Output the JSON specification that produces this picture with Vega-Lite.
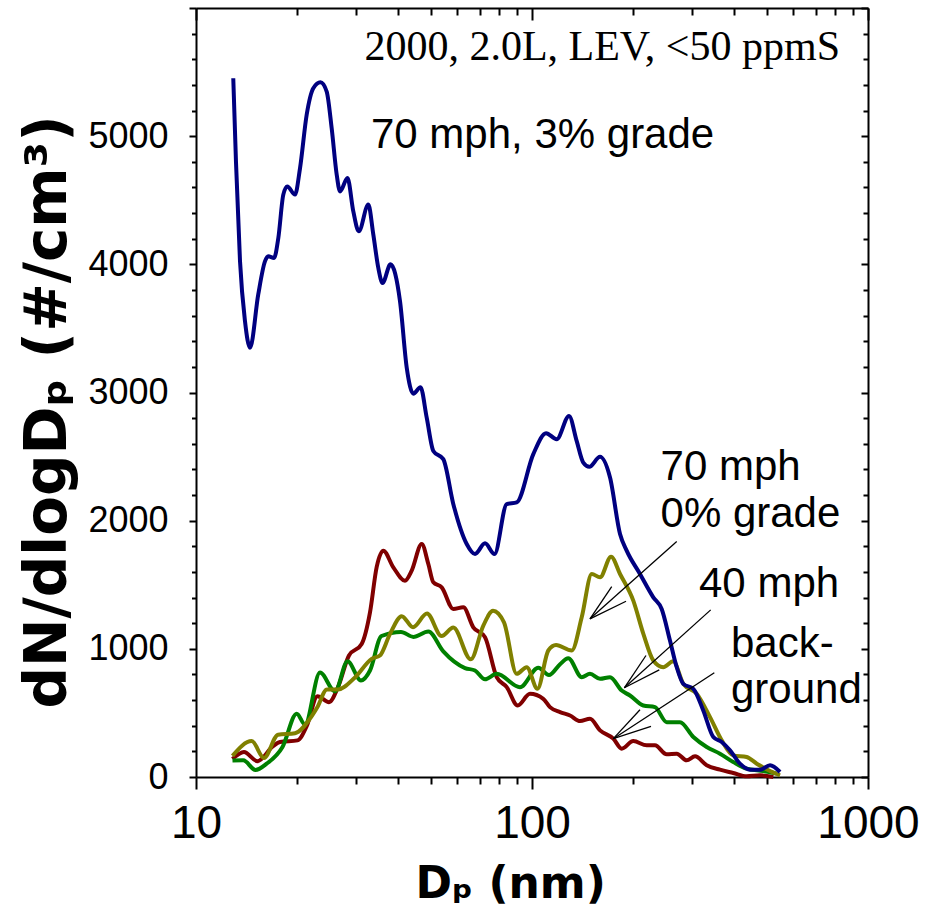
{
  "$schema": "https://vega.github.io/schema/vega-lite/v6.json",
  "width": 672,
  "height": 769,
  "autosize": "none",
  "padding": {"left": 196, "top": 8, "right": 60, "bottom": 140},
  "background": "white",
  "config": {
    "view": {"stroke": null},
    "axis": {"grid": false, "domainColor": "black", "tickColor": "black", "labelColor": "black", "titleColor": "black", "domainWidth": 2, "tickWidth": 2}
  },
  "datasets": {
    "curves": [
      {"series": "background", "D": 12.84, "N": 140}, {"series": "background", "D": 13.89, "N": 195}, {"series": "background", "D": 15.24, "N": 123}, {"series": "background", "D": 16.95, "N": 240}, {"series": "background", "D": 17.78, "N": 273}, {"series": "background", "D": 20.05, "N": 286}, {"series": "background", "D": 21.35, "N": 396}, {"series": "background", "D": 22.99, "N": 630}, {"series": "background", "D": 24.88, "N": 584}, {"series": "background", "D": 26.46, "N": 701}, {"series": "background", "D": 28.53, "N": 948}, {"series": "background", "D": 31.12, "N": 1038}, {"series": "background", "D": 32.95, "N": 1285}, {"series": "background", "D": 34.5, "N": 1640}, {"series": "background", "D": 36.1, "N": 1766}, {"series": "background", "D": 38.66, "N": 1636}, {"series": "background", "D": 41.88, "N": 1532}, {"series": "background", "D": 43.85, "N": 1610}, {"series": "background", "D": 46.96, "N": 1818}, {"series": "background", "D": 49.14, "N": 1662}, {"series": "background", "D": 50.85, "N": 1519}, {"series": "background", "D": 53.86, "N": 1480}, {"series": "background", "D": 58.33, "N": 1311}, {"series": "background", "D": 62.45, "N": 1324}, {"series": "background", "D": 66.87, "N": 1168}, {"series": "background", "D": 72.47, "N": 1090}, {"series": "background", "D": 78.51, "N": 779}, {"series": "background", "D": 84.1, "N": 701}, {"series": "background", "D": 90.67, "N": 558}, {"series": "background", "D": 98.63, "N": 649}, {"series": "background", "D": 108.0, "N": 610}, {"series": "background", "D": 113.1, "N": 545}, {"series": "background", "D": 121.2, "N": 506}, {"series": "background", "D": 129.8, "N": 480}, {"series": "background", "D": 139.0, "N": 436}, {"series": "background", "D": 148.8, "N": 455}, {"series": "background", "D": 159.4, "N": 364}, {"series": "background", "D": 174.6, "N": 299}, {"series": "background", "D": 184.9, "N": 221}, {"series": "background", "D": 200.2, "N": 280}, {"series": "background", "D": 219.5, "N": 247}, {"series": "background", "D": 232.3, "N": 247}, {"series": "background", "D": 251.7, "N": 177}, {"series": "background", "D": 269.6, "N": 182}, {"series": "background", "D": 288.7, "N": 130}, {"series": "background", "D": 305.6, "N": 161}, {"series": "background", "D": 331.1, "N": 91}, {"series": "background", "D": 362.6, "N": 57}, {"series": "background", "D": 397.2, "N": 31}, {"series": "background", "D": 435.5, "N": 5}, {"series": "background", "D": 477.2, "N": 13}, {"series": "background", "D": 522.7, "N": 0},
      {"series": "40 mph", "D": 12.84, "N": 128}, {"series": "40 mph", "D": 13.83, "N": 130}, {"series": "40 mph", "D": 15.03, "N": 55}, {"series": "40 mph", "D": 16.23, "N": 104}, {"series": "40 mph", "D": 18.09, "N": 235}, {"series": "40 mph", "D": 19.94, "N": 494}, {"series": "40 mph", "D": 21.11, "N": 410}, {"series": "40 mph", "D": 23.39, "N": 815}, {"series": "40 mph", "D": 25.93, "N": 668}, {"series": "40 mph", "D": 28.24, "N": 903}, {"series": "40 mph", "D": 30.97, "N": 753}, {"series": "40 mph", "D": 32.95, "N": 831}, {"series": "40 mph", "D": 35.65, "N": 1100}, {"series": "40 mph", "D": 40.75, "N": 1132}, {"series": "40 mph", "D": 44.34, "N": 1093}, {"series": "40 mph", "D": 49.14, "N": 1135}, {"series": "40 mph", "D": 54.45, "N": 980}, {"series": "40 mph", "D": 63.18, "N": 850}, {"series": "40 mph", "D": 67.67, "N": 831}, {"series": "40 mph", "D": 72.47, "N": 762}, {"series": "40 mph", "D": 78.51, "N": 805}, {"series": "40 mph", "D": 92.1, "N": 701}, {"series": "40 mph", "D": 104.4, "N": 852}, {"series": "40 mph", "D": 112.3, "N": 795}, {"series": "40 mph", "D": 121.2, "N": 880}, {"series": "40 mph", "D": 128.2, "N": 927}, {"series": "40 mph", "D": 140.6, "N": 779}, {"series": "40 mph", "D": 148.8, "N": 805}, {"series": "40 mph", "D": 159.4, "N": 766}, {"series": "40 mph", "D": 170.7, "N": 779}, {"series": "40 mph", "D": 184.9, "N": 675}, {"series": "40 mph", "D": 195.7, "N": 636}, {"series": "40 mph", "D": 214.5, "N": 558}, {"series": "40 mph", "D": 232.3, "N": 545}, {"series": "40 mph", "D": 251.7, "N": 428}, {"series": "40 mph", "D": 275.7, "N": 428}, {"series": "40 mph", "D": 302.1, "N": 312}, {"series": "40 mph", "D": 331.1, "N": 234}, {"series": "40 mph", "D": 362.6, "N": 182}, {"series": "40 mph", "D": 397.2, "N": 117}, {"series": "40 mph", "D": 435.5, "N": 65}, {"series": "40 mph", "D": 488.1, "N": 47}, {"series": "40 mph", "D": 535.0, "N": 26},
      {"series": "70 mph, 0% grade", "D": 12.84, "N": 165}, {"series": "70 mph, 0% grade", "D": 14.65, "N": 280}, {"series": "70 mph, 0% grade", "D": 15.94, "N": 148}, {"series": "70 mph, 0% grade", "D": 17.54, "N": 330}, {"series": "70 mph, 0% grade", "D": 19.71, "N": 341}, {"series": "70 mph, 0% grade", "D": 21.84, "N": 455}, {"series": "70 mph, 0% grade", "D": 22.92, "N": 540}, {"series": "70 mph, 0% grade", "D": 24.54, "N": 683}, {"series": "70 mph, 0% grade", "D": 26.46, "N": 683}, {"series": "70 mph, 0% grade", "D": 29.73, "N": 777}, {"series": "70 mph, 0% grade", "D": 33.33, "N": 922}, {"series": "70 mph, 0% grade", "D": 35.28, "N": 948}, {"series": "70 mph, 0% grade", "D": 37.8, "N": 1117}, {"series": "70 mph, 0% grade", "D": 40.95, "N": 1255}, {"series": "70 mph, 0% grade", "D": 44.25, "N": 1168}, {"series": "70 mph, 0% grade", "D": 48.7, "N": 1275}, {"series": "70 mph, 0% grade", "D": 53.79, "N": 1100}, {"series": "70 mph, 0% grade", "D": 58.33, "N": 1166}, {"series": "70 mph, 0% grade", "D": 65.74, "N": 918}, {"series": "70 mph, 0% grade", "D": 71.64, "N": 1181}, {"series": "70 mph, 0% grade", "D": 76.55, "N": 1298}, {"series": "70 mph, 0% grade", "D": 82.54, "N": 1207}, {"series": "70 mph, 0% grade", "D": 90.04, "N": 805}, {"series": "70 mph, 0% grade", "D": 96.43, "N": 857}, {"series": "70 mph, 0% grade", "D": 103.8, "N": 688}, {"series": "70 mph, 0% grade", "D": 111.8, "N": 987}, {"series": "70 mph, 0% grade", "D": 117.9, "N": 1030}, {"series": "70 mph, 0% grade", "D": 131.3, "N": 987}, {"series": "70 mph, 0% grade", "D": 140.6, "N": 1246}, {"series": "70 mph, 0% grade", "D": 150.6, "N": 1584}, {"series": "70 mph, 0% grade", "D": 159.4, "N": 1558}, {"series": "70 mph, 0% grade", "D": 171.9, "N": 1719}, {"series": "70 mph, 0% grade", "D": 182.8, "N": 1584}, {"series": "70 mph, 0% grade", "D": 200.2, "N": 1376}, {"series": "70 mph, 0% grade", "D": 214.5, "N": 1117}, {"series": "70 mph, 0% grade", "D": 229.6, "N": 909}, {"series": "70 mph, 0% grade", "D": 245.9, "N": 857}, {"series": "70 mph, 0% grade", "D": 263.3, "N": 903}, {"series": "70 mph, 0% grade", "D": 282.0, "N": 727}, {"series": "70 mph, 0% grade", "D": 309.2, "N": 649}, {"series": "70 mph, 0% grade", "D": 338.7, "N": 467}, {"series": "70 mph, 0% grade", "D": 366.9, "N": 286}, {"series": "70 mph, 0% grade", "D": 397.2, "N": 169}, {"series": "70 mph, 0% grade", "D": 435.5, "N": 156}, {"series": "70 mph, 0% grade", "D": 466.6, "N": 104}, {"series": "70 mph, 0% grade", "D": 511.0, "N": 47}, {"series": "70 mph, 0% grade", "D": 547.2, "N": 13},
      {"series": "70 mph, 3% grade", "D": 12.91, "N": 5452}, {"series": "70 mph, 3% grade", "D": 13.15, "N": 4803}, {"series": "70 mph, 3% grade", "D": 13.52, "N": 4025}, {"series": "70 mph, 3% grade", "D": 13.99, "N": 3556}, {"series": "70 mph, 3% grade", "D": 14.48, "N": 3349}, {"series": "70 mph, 3% grade", "D": 15.32, "N": 3765}, {"series": "70 mph, 3% grade", "D": 16.05, "N": 4025}, {"series": "70 mph, 3% grade", "D": 16.41, "N": 4063}, {"series": "70 mph, 3% grade", "D": 17.07, "N": 4050}, {"series": "70 mph, 3% grade", "D": 17.58, "N": 4206}, {"series": "70 mph, 3% grade", "D": 18.19, "N": 4544}, {"series": "70 mph, 3% grade", "D": 18.69, "N": 4608}, {"series": "70 mph, 3% grade", "D": 19.71, "N": 4544}, {"series": "70 mph, 3% grade", "D": 20.4, "N": 4751}, {"series": "70 mph, 3% grade", "D": 21.35, "N": 5167}, {"series": "70 mph, 3% grade", "D": 22.34, "N": 5374}, {"series": "70 mph, 3% grade", "D": 23.47, "N": 5421}, {"series": "70 mph, 3% grade", "D": 24.49, "N": 5348}, {"series": "70 mph, 3% grade", "D": 25.34, "N": 5062}, {"series": "70 mph, 3% grade", "D": 26.23, "N": 4699}, {"series": "70 mph, 3% grade", "D": 26.83, "N": 4569}, {"series": "70 mph, 3% grade", "D": 28.24, "N": 4673}, {"series": "70 mph, 3% grade", "D": 29.39, "N": 4413}, {"series": "70 mph, 3% grade", "D": 30.51, "N": 4258}, {"series": "70 mph, 3% grade", "D": 32.57, "N": 4466}, {"series": "70 mph, 3% grade", "D": 33.71, "N": 4232}, {"series": "70 mph, 3% grade", "D": 34.88, "N": 3972}, {"series": "70 mph, 3% grade", "D": 35.91, "N": 3855}, {"series": "70 mph, 3% grade", "D": 37.93, "N": 4000}, {"series": "70 mph, 3% grade", "D": 40.47, "N": 3713}, {"series": "70 mph, 3% grade", "D": 42.38, "N": 3193}, {"series": "70 mph, 3% grade", "D": 44.34, "N": 2991}, {"series": "70 mph, 3% grade", "D": 46.58, "N": 3040}, {"series": "70 mph, 3% grade", "D": 48.6, "N": 2804}, {"series": "70 mph, 3% grade", "D": 50.85, "N": 2544}, {"series": "70 mph, 3% grade", "D": 54.45, "N": 2480}, {"series": "70 mph, 3% grade", "D": 58.33, "N": 2129}, {"series": "70 mph, 3% grade", "D": 63.92, "N": 1818}, {"series": "70 mph, 3% grade", "D": 67.67, "N": 1740}, {"series": "70 mph, 3% grade", "D": 72.47, "N": 1823}, {"series": "70 mph, 3% grade", "D": 77.34, "N": 1740}, {"series": "70 mph, 3% grade", "D": 84.1, "N": 2129}, {"series": "70 mph, 3% grade", "D": 90.04, "N": 2142}, {"series": "70 mph, 3% grade", "D": 100.9, "N": 2519}, {"series": "70 mph, 3% grade", "D": 110.1, "N": 2683}, {"series": "70 mph, 3% grade", "D": 118.4, "N": 2636}, {"series": "70 mph, 3% grade", "D": 128.9, "N": 2817}, {"series": "70 mph, 3% grade", "D": 135.8, "N": 2622}, {"series": "70 mph, 3% grade", "D": 142.1, "N": 2453}, {"series": "70 mph, 3% grade", "D": 148.1, "N": 2420}, {"series": "70 mph, 3% grade", "D": 159.4, "N": 2498}, {"series": "70 mph, 3% grade", "D": 170.7, "N": 2336}, {"series": "70 mph, 3% grade", "D": 182.8, "N": 1896}, {"series": "70 mph, 3% grade", "D": 191.3, "N": 1766}, {"series": "70 mph, 3% grade", "D": 209.6, "N": 1584}, {"series": "70 mph, 3% grade", "D": 229.6, "N": 1402}, {"series": "70 mph, 3% grade", "D": 243.2, "N": 1311}, {"series": "70 mph, 3% grade", "D": 257.4, "N": 1065}, {"series": "70 mph, 3% grade", "D": 269.6, "N": 857}, {"series": "70 mph, 3% grade", "D": 282.0, "N": 727}, {"series": "70 mph, 3% grade", "D": 302.1, "N": 688}, {"series": "70 mph, 3% grade", "D": 323.4, "N": 519}, {"series": "70 mph, 3% grade", "D": 346.4, "N": 312}, {"series": "70 mph, 3% grade", "D": 366.9, "N": 273}, {"series": "70 mph, 3% grade", "D": 388.4, "N": 208}, {"series": "70 mph, 3% grade", "D": 415.9, "N": 104}, {"series": "70 mph, 3% grade", "D": 445.6, "N": 57}, {"series": "70 mph, 3% grade", "D": 477.2, "N": 57}, {"series": "70 mph, 3% grade", "D": 511.0, "N": 91}, {"series": "70 mph, 3% grade", "D": 547.2, "N": 39}
    ],
    "arrows": [
      {"D1": 269.6, "N1": 1838, "D2": 148.8, "N2": 1234},
      {"D1": 172.7, "N1": 1485, "D2": 148.8, "N2": 1234},
      {"D1": 190.5, "N1": 1371, "D2": 148.8, "N2": 1234},
      {"D1": 340.3, "N1": 1304, "D2": 188.3, "N2": 696},
      {"D1": 218.4, "N1": 948, "D2": 188.3, "N2": 696},
      {"D1": 239.2, "N1": 836, "D2": 188.3, "N2": 696},
      {"D1": 348.8, "N1": 813, "D2": 174.6, "N2": 299},
      {"D1": 209.6, "N1": 525, "D2": 174.6, "N2": 299},
      {"D1": 226.0, "N1": 395, "D2": 174.6, "N2": 299}
    ],
    "notes": [
      {"text": "70 mph, 3% grade", "D": 33.17, "N": 4904},
      {"text": "70 mph", "D": 241.3, "N": 2319},
      {"text": "0% grade", "D": 241.3, "N": 1953},
      {"text": "40 mph", "D": 314.1, "N": 1407},
      {"text": "back-", "D": 391.1, "N": 940},
      {"text": "ground", "D": 391.1, "N": 574}
    ],
    "header": [
      {"text": "2000, 2.0L, LEV, <50 ppmS", "D": 825.4, "N": 5597}
    ]
  },
  "layer": [
    {
      "data": {"name": "curves"},
      "mark": {"type": "line", "strokeWidth": 4, "interpolate": "monotone"},
      "encoding": {
        "x": {
          "field": "D", "type": "quantitative",
          "scale": {"type": "log", "domain": [10, 1000], "nice": false},
          "axis": {
            "orient": "bottom",
            "values": [10, 20, 30, 40, 50, 60, 70, 80, 90, 100, 200, 300, 400, 500, 600, 700, 800, 900, 1000],
            "format": "d",
            "labelExpr": "datum.value == 10 || datum.value == 100 || datum.value == 1000 ? datum.label : ''",
            "tickSize": {"condition": {"test": "datum.value == 10 || datum.value == 100 || datum.value == 1000", "value": 12}, "value": 7},
            "labelFont": "Liberation Sans", "labelFontSize": 46, "labelPadding": 12,
            "labelFlush": false, "labelOverlap": false, "labelBound": false,
            "title": "Dₚ (nm)", "titleFont": "DejaVu Sans", "titleFontWeight": "bold", "titleFontSize": 44,
            "titleX": 219, "titleY": 120, "titleAlign": "left", "titleBaseline": "alphabetic"
          }
        },
        "y": {
          "field": "N", "type": "quantitative",
          "scale": {"domain": [0, 6000], "nice": false, "zero": true},
          "axis": {
            "orient": "left",
            "values": [0, 200, 400, 600, 800, 1000, 1200, 1400, 1600, 1800, 2000, 2200, 2400, 2600, 2800, 3000, 3200, 3400, 3600, 3800, 4000, 4200, 4400, 4600, 4800, 5000, 5200, 5400, 5600, 5800, 6000],
            "format": "d",
            "labelExpr": "datum.value % 1000 == 0 && datum.value < 6000 ? datum.label : ''",
            "tickSize": {"condition": {"test": "datum.value % 1000 == 0", "value": 7}, "value": 4.5},
            "labelFont": "Liberation Sans", "labelFontSize": 36, "labelPadding": 21, "labelOverlap": false, "labelBound": false, "labelFlush": false,
            "title": "dN/dlogDₚ (#/cm³)", "titleFont": "DejaVu Sans", "titleFontWeight": "bold", "titleFontSize": 58,
            "titleAngle": 270, "titleX": -148, "titleY": 700, "titleAlign": "left", "titleBaseline": "middle"
          }
        },
        "color": {
          "field": "series", "type": "nominal",
          "scale": {"domain": ["background", "40 mph", "70 mph, 0% grade", "70 mph, 3% grade"], "range": ["#800000", "#008000", "#808000", "#000080"]},
          "legend": null
        }
      }
    },
    {
      "data": {"name": "arrows"},
      "mark": {"type": "rule", "stroke": "black", "strokeWidth": 1.3},
      "encoding": {
        "x": {
          "field": "D1", "type": "quantitative",
          "axis": {
            "orient": "top",
            "values": [10, 20, 30, 40, 50, 60, 70, 80, 90, 100, 200, 300, 400, 500, 600, 700, 800, 900, 1000],
            "labels": false, "title": null,
            "tickSize": {"condition": {"test": "datum.value == 10 || datum.value == 100 || datum.value == 1000", "value": -12}, "value": -7}
          }
        },
        "x2": {"field": "D2"},
        "y": {
          "field": "N1", "type": "quantitative",
          "axis": {
            "orient": "right",
            "values": [0, 200, 400, 600, 800, 1000, 1200, 1400, 1600, 1800, 2000, 2200, 2400, 2600, 2800, 3000, 3200, 3400, 3600, 3800, 4000, 4200, 4400, 4600, 4800, 5000, 5200, 5400, 5600, 5800, 6000],
            "labels": false, "title": null,
            "tickSize": {"condition": {"test": "datum.value % 1000 == 0", "value": -7}, "value": -5}
          }
        },
        "y2": {"field": "N2"}
      }
    },
    {
      "data": {"name": "notes"},
      "mark": {"type": "text", "font": "Liberation Sans", "fontSize": 42, "align": "left", "baseline": "alphabetic", "color": "black"},
      "encoding": {
        "x": {"field": "D", "type": "quantitative", "axis": null},
        "y": {"field": "N", "type": "quantitative", "axis": null},
        "text": {"field": "text"}
      }
    },
    {
      "data": {"name": "header"},
      "mark": {"type": "text", "font": "Liberation Serif", "fontSize": 42, "align": "right", "baseline": "alphabetic", "color": "black"},
      "encoding": {
        "x": {"field": "D", "type": "quantitative", "axis": null},
        "y": {"field": "N", "type": "quantitative", "axis": null},
        "text": {"field": "text"}
      }
    }
  ],
  "resolve": {"axis": {"x": "independent", "y": "independent"}}
}
